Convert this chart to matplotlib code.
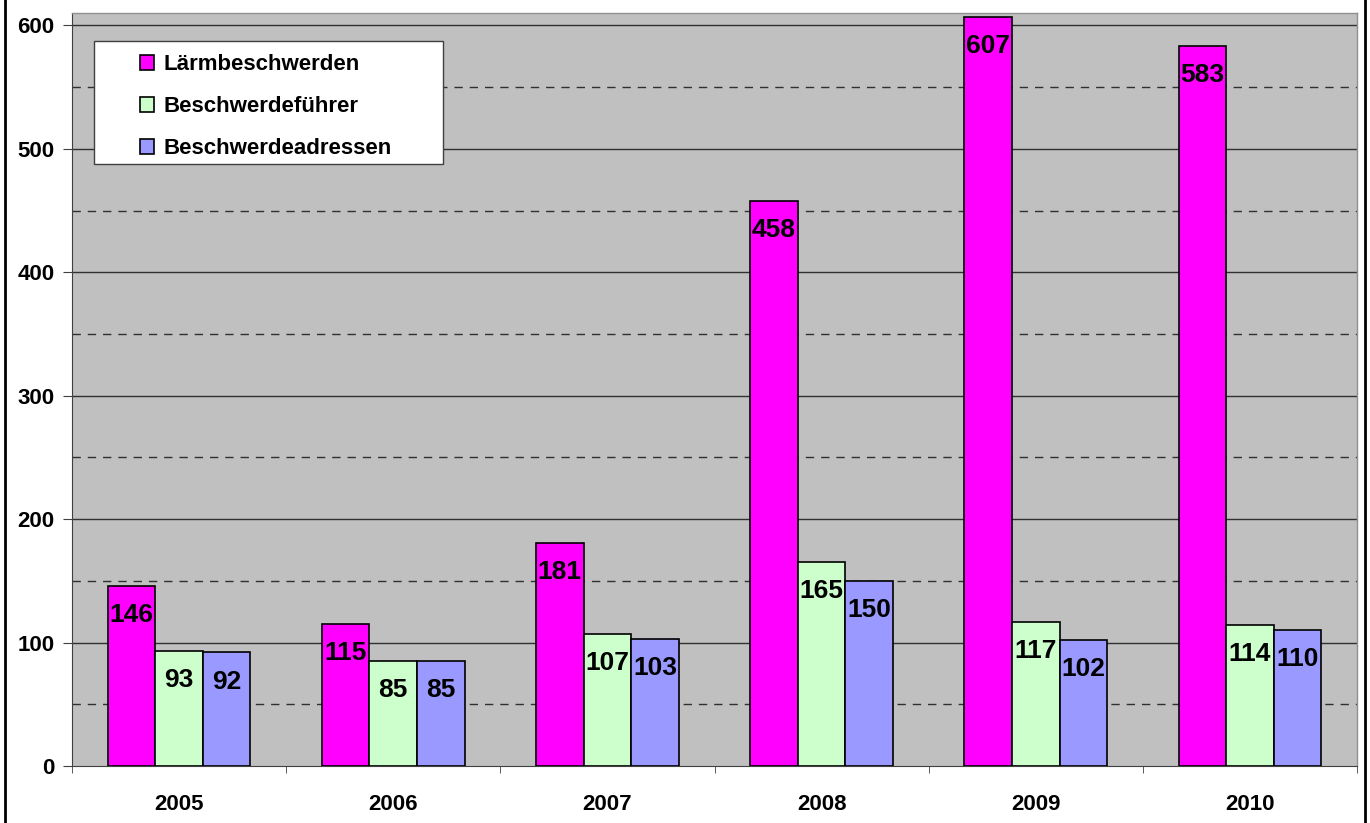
import matplotlib.pyplot as plt
from matplotlib.lines import Line2D
from matplotlib.patches import Rectangle
import numpy as np

plt.rcParams['font.family'] = ['Liberation Sans', 'DejaVu Sans']
plt.rcParams['font.weight'] = 'bold'

# Data
years = ['2005', '2006', '2007', '2008', '2009', '2010']
laerm = [146, 115, 181, 458, 607, 583]
fuehrer = [93, 85, 107, 165, 117, 114]
adressen = [92, 85, 103, 150, 102, 110]

series = [
    ('Lärmbeschwerden', laerm, '#FF00FF'),
    ('Beschwerdeführer', fuehrer, '#CCFFCC'),
    ('Beschwerdeadressen', adressen, '#9999FF'),
]

fig = plt.figure(figsize=(13.7, 8.23), dpi=100)
ax = fig.add_axes([72 / 1370, 1 - 766 / 823, (1357 - 72) / 1370, (766 - 13) / 823])
ax.set_facecolor('#C0C0C0')

x = np.arange(len(years))
w = 0.222
for i, (name, vals, col) in enumerate(series):
    pos = x + (i - 1) * w
    ax.bar(pos, vals, w, color=col, edgecolor='black', linewidth=1.2,
           label=name, zorder=3)
    for xp, v in zip(pos, vals):
        ax.annotate(str(v), (xp, v), xytext=(0, -21), textcoords='offset points',
                    ha='center', va='center', fontsize=19, fontweight='bold',
                    zorder=4)

ax.set_xlim(-0.5, len(years) - 0.5)
ax.set_ylim(0, 610)

# gridlines: solid at 100s, dashed at 50s
for y in range(100, 601, 100):
    ax.axhline(y, color='#303030', linewidth=1, zorder=1)
for y in range(50, 601, 100):
    ax.axhline(y, color='#303030', linewidth=1, linestyle=(0, (6, 5)), zorder=1)

ax.set_yticks(range(0, 601, 100))
ax.set_yticklabels([str(v) for v in range(0, 601, 100)], fontsize=16, fontweight='bold')
ax.set_xticks(x)
ax.set_xticklabels(years, fontsize=16, fontweight='bold')
ax.set_xticks(np.arange(-0.5, len(years), 1), minor=True)
ax.tick_params(axis='x', which='major', length=0, pad=20)
ax.tick_params(axis='x', which='minor', length=5, direction='out', color='#404040')
ax.tick_params(axis='y', length=6.5, direction='out', color='#404040', pad=6)

for s in ['top', 'right']:
    ax.spines[s].set_color('#909090')
    ax.spines[s].set_linewidth(1)
ax.spines['left'].set_color('#404040')
ax.spines['bottom'].set_color('#404040')

# legend box drawn separately (wide side padding as in the original)
ax.add_patch(Rectangle((22 / 1285, 1 - 151 / 753), 349 / 1285, 123 / 753,
                       transform=ax.transAxes, facecolor='white', edgecolor='#404040',
                       linewidth=1, zorder=5))
leg = ax.legend(loc='upper left', bbox_to_anchor=(68 / 1285, 1 - 41 / 753),
                fontsize=16, frameon=False, handlelength=0.65, handleheight=0.65,
                handletextpad=0.4, labelspacing=0.95, borderpad=0, borderaxespad=0)
leg.set_zorder(6)

# outer frame lines left and right
fig.add_artist(Line2D([4.5 / 1370, 4.5 / 1370], [0, 1], color='black', linewidth=2))
fig.add_artist(Line2D([1365 / 1370, 1365 / 1370], [0, 1], color='black', linewidth=2))

fig.savefig('out.png', dpi=100)
